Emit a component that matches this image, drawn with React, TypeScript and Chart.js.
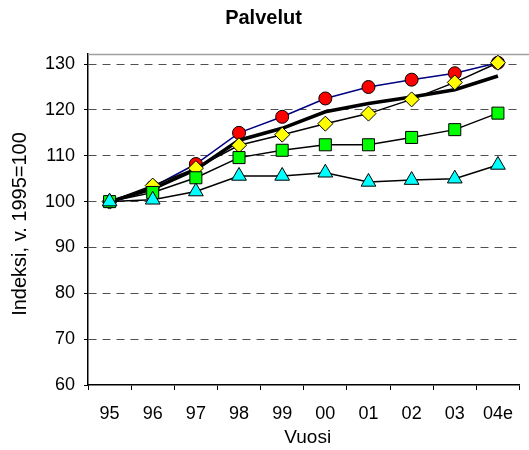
import React, { useEffect, useRef } from 'react';
import { Chart, registerables } from 'chart.js';
Chart.register(...registerables);

const categories = ['95', '96', '97', '98', '99', '00', '01', '02', '03', '04e'];
const seriesRed = [100, 103.2, 108.2, 115.0, 118.5, 122.5, 125.0, 126.6, 128.0, 130.3];
const seriesTotal = [100, 102.8, 107.0, 113.4, 116.0, 119.6, 121.4, 122.8, 124.4, 127.4];
const seriesYellow = [100, 103.5, 107.3, 112.3, 114.6, 117.0, 119.2, 122.3, 126.0, 130.3];
const seriesGreen = [100, 102.0, 105.2, 109.6, 111.2, 112.4, 112.4, 114.0, 115.7, 119.3];
const seriesCyan = [100, 100.4, 102.2, 105.6, 105.6, 106.3, 104.3, 104.7, 105.0, 108.0];
const yTicks = [60, 70, 80, 90, 100, 110, 120, 130];

const chartTitle = 'Palvelut';
const xTitle = 'Vuosi';
const yTitle = 'Indeksi, v. 1995=100';

const FONT = "'Liberation Sans', Arial, Helvetica, sans-serif";

export default function App() {
  const ref = useRef<HTMLCanvasElement>(null);

  useEffect(() => {
    document.body.style.margin = '0';
    const canvas = ref.current;
    if (!canvas) return;

    const framePlugin = {
      id: 'frameLine',
      beforeDatasetsDraw(chart: any) {
        const { ctx, chartArea } = chart;
        ctx.save();
        ctx.strokeStyle = '#a0a0a0';
        ctx.lineWidth = 1.5;
        ctx.beginPath();
        ctx.moveTo(chartArea.left, chartArea.top + 0.5);
        ctx.lineTo(chart.width, chartArea.top + 0.5);
        ctx.stroke();
        ctx.restore();
      },
    };

    const axisTitles = {
      id: 'axisTitles',
      afterDraw(chart: any) {
        const { ctx, chartArea } = chart;
        ctx.save();
        ctx.fillStyle = '#000';
        ctx.textAlign = 'center';
        ctx.textBaseline = 'middle';
        ctx.font = `19px ${FONT}`;
        ctx.fillText(xTitle, (chartArea.left + chartArea.right) / 2 + 4, 438);
        ctx.translate(20, 224);
        ctx.rotate(-Math.PI / 2);
        ctx.font = `20px ${FONT}`;
        ctx.fillText(yTitle, 0, 0);
        ctx.restore();
      },
    };

    const chart = new Chart(canvas, {
      type: 'line',
      data: {
        labels: categories,
        datasets: [
          {
            label: 'cyan',
            data: seriesCyan,
            borderColor: '#000',
            borderWidth: 1.5,
            pointStyle: 'triangle',
            pointRadius: 8.5,
            pointBackgroundColor: '#00ffff',
            pointBorderColor: '#000',
            pointBorderWidth: 1,
            tension: 0,
          },
          {
            label: 'green',
            data: seriesGreen,
            borderColor: '#000',
            borderWidth: 1.5,
            pointStyle: 'rect',
            pointRadius: 8.5,
            pointBackgroundColor: '#00ff00',
            pointBorderColor: '#000',
            pointBorderWidth: 1,
            tension: 0,
          },
          {
            label: 'yellow',
            data: seriesYellow,
            borderColor: '#000',
            borderWidth: 1.5,
            pointStyle: 'rectRot',
            pointRadius: 7.5,
            pointBackgroundColor: '#ffff00',
            pointBorderColor: '#000',
            pointBorderWidth: 1,
            tension: 0,
          },
          {
            label: 'total',
            data: seriesTotal,
            borderColor: '#000',
            borderWidth: 3.5,
            pointRadius: 0,
            tension: 0,
          },
          {
            label: 'red',
            data: seriesRed,
            borderColor: '#000080',
            borderWidth: 1.5,
            pointStyle: 'circle',
            pointRadius: 6.5,
            pointBackgroundColor: '#ff0000',
            pointBorderColor: '#000',
            pointBorderWidth: 1,
            tension: 0,
          },
        ],
      },
      options: {
        animation: false,
        responsive: false,
        maintainAspectRatio: false,
        layout: { padding: { left: 0, right: 2, top: 0, bottom: 0 } },
        plugins: {
          legend: { display: false },
          tooltip: { enabled: false },
          title: {
            display: true,
            text: chartTitle,
            color: '#000',
            font: { family: FONT, size: 20, weight: 'bold' },
            padding: { top: 6, bottom: 24 },
          },
        },
        scales: {
          x: {
            type: 'category',
            offset: true,
            grid: {
              offset: true,
              drawOnChartArea: false,
              drawTicks: true,
              tickLength: 5,
              color: '#000',
              tickColor: '#000',
            },
            border: { display: true, color: '#000', width: 1.5 },
            ticks: {
              color: '#000',
              font: { family: FONT, size: 18 },
              padding: 13,
              maxRotation: 0,
              autoSkip: false,
            },
            afterFit: (s: any) => {
              s.height = 65;
            },
          },
          y: {
            min: 60,
            max: 132.2,
            afterBuildTicks: (a: any) => {
              a.ticks = yTicks.map((v) => ({ value: v }));
            },
            grid: {
              color: (c: any) => (c.tick && c.tick.value === 60 ? 'rgba(0,0,0,0)' : '#505050'),
              tickColor: '#000',
              tickLength: 4,
              lineWidth: 1,
            },
            border: { display: true, color: '#000', width: 1.5, dash: [8, 6] },
            ticks: {
              color: '#000',
              font: { family: FONT, size: 18 },
              padding: 9,
            },
            afterFit: (s: any) => {
              s.width = 88;
            },
          },
        },
      },
      plugins: [framePlugin, axisTitles],
    } as any);

    return () => chart.destroy();
  }, []);

  return (
    <div style={{ width: 529, height: 450 }}>
      <canvas ref={ref} width={529} height={450} style={{ display: 'block' }} />
    </div>
  );
}
